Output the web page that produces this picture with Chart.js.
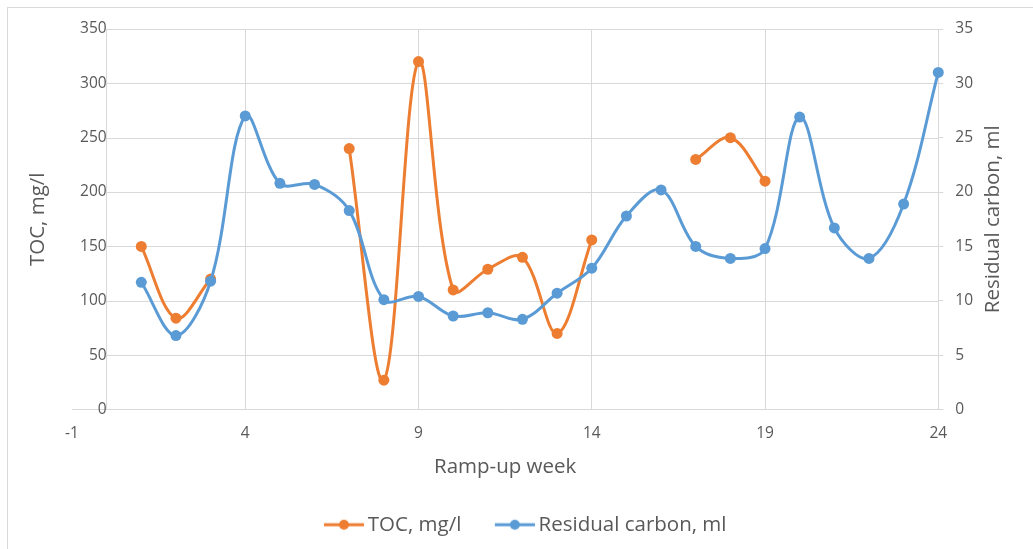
<!DOCTYPE html>
<html>
<head>
<meta charset="utf-8">
<script src="https://cdn.jsdelivr.net/npm/chart.js@4.4.1/dist/chart.umd.min.js"></script>
<style>
  html, body { margin: 0; padding: 0; background: #fff; overflow: hidden; }
  #frame { position: absolute; left: 7px; top: 7px; width: 1100px; height: 600px; border: 1px solid #d9d9d9; }
  #rampChart { position: absolute; left: 0; top: 0; }
</style>
</head>
<body>
<div id="frame"></div>
<canvas id="rampChart" width="1033" height="549"></canvas>
<script>
const weeks = [1, 2, 3, 4, 5, 6, 7, 8, 9, 10, 11, 12, 13, 14, 15, 16, 17, 18, 19, 20, 21, 22, 23, 24];
const tocValues = [150, 84, 120, null, null, null, 240, 27, 320, 110, 129, 140, 70, 156, null, null, 230, 250, 210, null, null, null, null, null];
const residualValues = [11.7, 6.8, 11.8, 27.0, 20.8, 20.7, 18.3, 10.1, 10.4, 8.6, 8.9, 8.3, 10.7, 13.0, 17.8, 20.2, 15.0, 13.9, 14.8, 26.9, 16.7, 13.9, 18.9, 31.0];

const seriesNames = ["TOC, mg/l", "Residual carbon, ml"];
const xTitle = "Ramp-up week";
const leftTitle = "TOC, mg/l";
const rightTitle = "Residual carbon, ml";

const orange = "#ED7D31";
const blue = "#5B9BD5";
const gridColor = "#d9d9d9";
const textColor = "#595959";
const fontFamily = "'Open Sans', sans-serif";

Chart.defaults.font.family = fontFamily;
Chart.defaults.color = textColor;

// line-and-dot marker for the legend; the blank strip on the left
// spaces the second entry away from the first one's text
function legendSwatch(color) {
  const c = document.createElement("canvas");
  c.width = 64;
  c.height = 14;
  const g = c.getContext("2d");
  g.strokeStyle = color;
  g.lineWidth = 3;
  g.beginPath();
  g.moveTo(24, 7);
  g.lineTo(64, 7);
  g.stroke();
  g.fillStyle = color;
  g.beginPath();
  g.arc(44, 7, 5, 0, Math.PI * 2);
  g.fill();
  return c;
}
const swatches = [legendSwatch(orange), legendSwatch(blue)];

// horizontal grid starts at the value axis (x = 0), not at the left edge
const zeroGrid = {
  id: "zeroGrid",
  beforeDatasetsDraw(chart) {
    const { ctx, chartArea, scales } = chart;
    const x0 = scales.x.getPixelForValue(0);
    ctx.save();
    ctx.strokeStyle = gridColor;
    ctx.lineWidth = 1;
    scales.y.ticks.forEach(t => {
      if (t.value === 0) return;
      const y = Math.round(scales.y.getPixelForValue(t.value)) + 0.5;
      ctx.beginPath();
      ctx.moveTo(x0, y);
      ctx.lineTo(chartArea.right, y);
      ctx.stroke();
    });
    ctx.restore();
  }
};

// both axis titles read bottom-to-top
const sideTitles = {
  id: "sideTitles",
  afterDraw(chart) {
    const { ctx, chartArea } = chart;
    const midY = (chartArea.top + chartArea.bottom) / 2;
    ctx.save();
    ctx.font = "20.5px " + fontFamily;
    ctx.fillStyle = textColor;
    ctx.textAlign = "center";
    ctx.textBaseline = "middle";
    [[leftTitle, chartArea.left - 34], [rightTitle, chartArea.right + 55]].forEach(([text, x]) => {
      ctx.save();
      ctx.translate(x, midY);
      ctx.rotate(-Math.PI / 2);
      ctx.fillText(text, 0, 0);
      ctx.restore();
    });
    ctx.restore();
  }
};

const ctx = document.getElementById("rampChart").getContext("2d");

new Chart(ctx, {
  type: "line",
  data: {
    datasets: [
      {
        label: seriesNames[0],
        data: weeks.map((w, i) => ({ x: w, y: tocValues[i] })),
        yAxisID: "y",
        borderColor: orange,
        backgroundColor: orange,
        borderWidth: 3,
        pointRadius: 5.5,
        pointHoverRadius: 5.5,
        pointBorderWidth: 0,
        tension: 0.35,
        spanGaps: false,
        clip: false,
        order: 2
      },
      {
        label: seriesNames[1],
        data: weeks.map((w, i) => ({ x: w, y: residualValues[i] })),
        yAxisID: "y2",
        borderColor: blue,
        backgroundColor: blue,
        borderWidth: 3,
        pointRadius: 5.5,
        pointHoverRadius: 5.5,
        pointBorderWidth: 0,
        tension: 0.35,
        clip: false,
        order: 1
      }
    ]
  },
  options: {
    responsive: false,
    animation: false,
    layout: {
      padding: { left: 48, right: 48, top: 29, bottom: 4 }
    },
    plugins: {
      tooltip: { enabled: false },
      legend: {
        position: "bottom",
        labels: {
          usePointStyle: true,
          pointStyleWidth: 51,
          padding: 16,
          color: textColor,
          font: { size: 20.5 },
          sort: (a, b) => a.datasetIndex - b.datasetIndex,
          generateLabels(chart) {
            const items = Chart.defaults.plugins.legend.labels.generateLabels(chart);
            items.forEach(it => { it.pointStyle = swatches[it.datasetIndex]; });
            return items;
          }
        }
      }
    },
    scales: {
      x: {
        type: "linear",
        min: -1,
        max: 24,
        afterFit: s => { s.height = 89; },
        ticks: { stepSize: 5, padding: 15, font: { size: 15.5 }, color: textColor },
        grid: {
          drawTicks: false,
          color: c => (c.tick && c.tick.value === -1 ? "rgba(0,0,0,0)" : gridColor)
        },
        border: { display: true, color: gridColor },
        title: {
          display: true,
          text: xTitle,
          font: { size: 20.5 },
          color: textColor,
          padding: { top: 4, bottom: 19 }
        }
      },
      // empty strip left of the plot that holds the rotated TOC title
      yPad: {
        position: "left",
        display: true,
        min: 0,
        max: 1,
        afterFit: s => { s.width = 24; },
        ticks: { display: false },
        grid: { display: false, drawTicks: false },
        border: { display: false }
      },
      y: {
        position: { x: 0 },
        min: 0,
        max: 350,
        ticks: { stepSize: 50, padding: 17, font: { size: 15.5 }, color: textColor },
        grid: { display: false, drawTicks: false },
        border: { display: true, color: gridColor }
      },
      y2: {
        position: "right",
        min: 0,
        max: 35,
        ticks: { stepSize: 5, padding: 12, font: { size: 15.5 }, color: textColor },
        grid: { drawOnChartArea: false, drawTicks: true, tickLength: 5, color: gridColor },
        border: { display: true, color: gridColor }
      }
    }
  },
  plugins: [zeroGrid, sideTitles]
});
</script>
</body>
</html>
